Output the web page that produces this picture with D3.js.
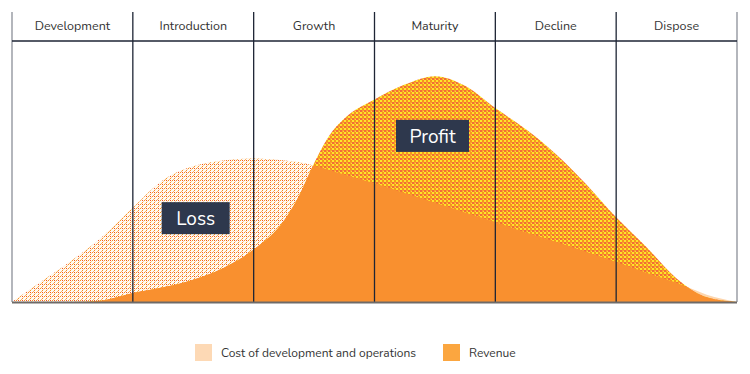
<!DOCTYPE html>
<meta charset="utf-8">
<style>
body { margin: 0; background: #fff; font-family: "Nunito", Lato, "Open Sans", sans-serif; }
.stage text { font-size: 12.5px; fill: #333; }
.legend text { font-size: 12px; fill: #333; }
.tag text { font-size: 19px; fill: #fff; }
</style>
<body>
<script src="https://cdn.jsdelivr.net/npm/d3@7"></script>
<script>

var stages = ["Development", "Introduction", "Growth", "Maturity", "Decline", "Dispose"];

// position along the life cycle, in stages
var t = [0, 0.25, 0.5, 0.75, 1.0, 1.25, 1.5, 1.75, 2.0, 2.25, 2.375, 2.5, 2.625, 2.75, 3.0,
         3.25, 3.5, 3.75, 4.0, 4.25, 4.5, 4.75, 5.0, 5.25, 5.5, 5.75, 6.0];
var cost = [0, 8, 16, 25, 36, 46.5, 51.8, 54, 54.8, 54, 53.3, 52, 50.4, 48.7, 45.3,
            41.6, 37.9, 34.2, 30.5, 26.6, 23, 19.2, 15.3, 11.2, 7.3, 2.8, 0];
var revenue = [0, 0, 0, 0.6, 3.4, 5.6, 8.5, 13, 20, 31, 40.5, 53, 63.5, 70, 77.3,
               83, 86.2, 82.5, 74, 66, 56.5, 45, 32.3, 21, 9, 1.8, 0];

var tags = [{label: "Loss", t: 1.52, v: 32, w: 68}, {label: "Profit", t: 3.48, v: 63.4, w: 73}];

var width = 750, height = 374;

var x = d3.scaleLinear().domain([0, 6]).range([12, 737]);
var y = d3.scaleLinear().domain([0, 100]).range([302, 40]);

var svg = d3.select("body").append("svg")
    .attr("width", width)
    .attr("height", height);

var defs = svg.append("defs");

// dotted fill for the loss area
var loss = defs.append("pattern")
    .attr("id", "loss")
    .attr("width", 4).attr("height", 4)
    .attr("patternUnits", "userSpaceOnUse");
loss.append("rect").attr("width", 4).attr("height", 4).attr("fill", "#fffaf4");
[[0, 0, "#f7931e"], [2, 2, "#f7931e"], [2, 0, "#f04e23"], [1, 3, "#fbb26a"], [3, 1, "#fdd2a6"]]
  .forEach(function(d) {
    loss.append("rect").attr("x", d[0]).attr("y", d[1]).attr("width", 1).attr("height", 1).attr("fill", d[2]);
  });

// checkered fill for the profit area
var profit = defs.append("pattern")
    .attr("id", "profit")
    .attr("width", 4).attr("height", 4)
    .attr("patternUnits", "userSpaceOnUse");
[[0, 0, 2, "#fde52c"], [2, 2, 2, "#f9a12b"], [2, 0, 2, "#f7941d"], [0, 2, 2, "#f26b3a"], [3, 3, 1, "#fde52c"]]
  .forEach(function(d) {
    profit.append("rect").attr("x", d[0]).attr("y", d[1]).attr("width", d[2]).attr("height", d[2]).attr("fill", d[3]);
  });

var costArea = d3.area()
    .x(function(d, i) { return x(t[i]); })
    .y0(y(0))
    .y1(function(d) { return y(d); })
    .curve(d3.curveMonotoneX);

defs.append("clipPath").attr("id", "under-cost")
  .append("path").attr("d", costArea(cost));

defs.append("clipPath").attr("id", "early")
  .append("rect")
    .attr("x", x(0)).attr("y", 0)
    .attr("width", x(4) - x(0)).attr("height", height);

svg.append("path").attr("d", costArea(cost)).attr("fill", "#fdd6ae");
svg.append("path").attr("d", costArea(cost)).attr("fill", "url(#loss)").attr("clip-path", "url(#early)");
svg.append("path").attr("d", costArea(revenue)).attr("fill", "url(#profit)");
svg.append("path").attr("d", costArea(revenue)).attr("fill", "#f9902f").attr("clip-path", "url(#under-cost)");

// stage grid
var bounds = d3.range(0, 7);
svg.selectAll("line.stage-line")
    .data(bounds)
  .enter().append("line")
    .attr("class", "stage-line")
    .attr("x1", function(d) { return x(d); })
    .attr("x2", function(d) { return x(d); })
    .attr("y1", 12)
    .attr("y2", y(0))
    .attr("stroke", function(d) { return d === 0 || d === 6 ? "#8b8f98" : "#1e2535"; })
    .attr("stroke-width", 1.3);

svg.append("line")
    .attr("x1", x(0)).attr("x2", x(6))
    .attr("y1", 41).attr("y2", 41)
    .attr("stroke", "#1e2535").attr("stroke-width", 1.3);

svg.append("line")
    .attr("x1", x(0)).attr("x2", x(6))
    .attr("y1", y(0) + 0.5).attr("y2", y(0) + 0.5)
    .attr("stroke", "#6e6a68").attr("stroke-width", 2);

svg.append("g").attr("class", "stage")
  .selectAll("text")
    .data(stages)
  .enter().append("text")
    .attr("x", function(d, i) { return x(i + 0.5); })
    .attr("y", 26)
    .attr("dy", ".35em")
    .attr("text-anchor", "middle")
    .text(function(d) { return d; });

// tags
var tag = svg.selectAll("g.tag")
    .data(tags)
  .enter().append("g")
    .attr("class", "tag")
    .attr("transform", function(d) { return "translate(" + x(d.t) + "," + y(d.v) + ")"; });

tag.append("rect")
    .attr("x", function(d) { return -d.w / 2; })
    .attr("y", -16)
    .attr("width", function(d) { return d.w; })
    .attr("height", 32)
    .attr("fill", "#2e384d");

tag.append("text")
    .attr("text-anchor", "middle")
    .attr("dy", ".35em")
    .text(function(d) { return d.label; });

// legend
var legend = svg.append("g").attr("class", "legend");
var items = [{label: "Cost of development and operations", color: "#fdd9b5", x: 195},
             {label: "Revenue", color: "#fba640", x: 443}];
var li = legend.selectAll("g").data(items).enter().append("g")
    .attr("transform", function(d) { return "translate(" + d.x + ",344)"; });
li.append("rect").attr("width", 17).attr("height", 17).attr("fill", function(d) { return d.color; });
li.append("text").attr("x", 26).attr("y", 9).attr("dy", ".35em").text(function(d) { return d.label; });

</script>
